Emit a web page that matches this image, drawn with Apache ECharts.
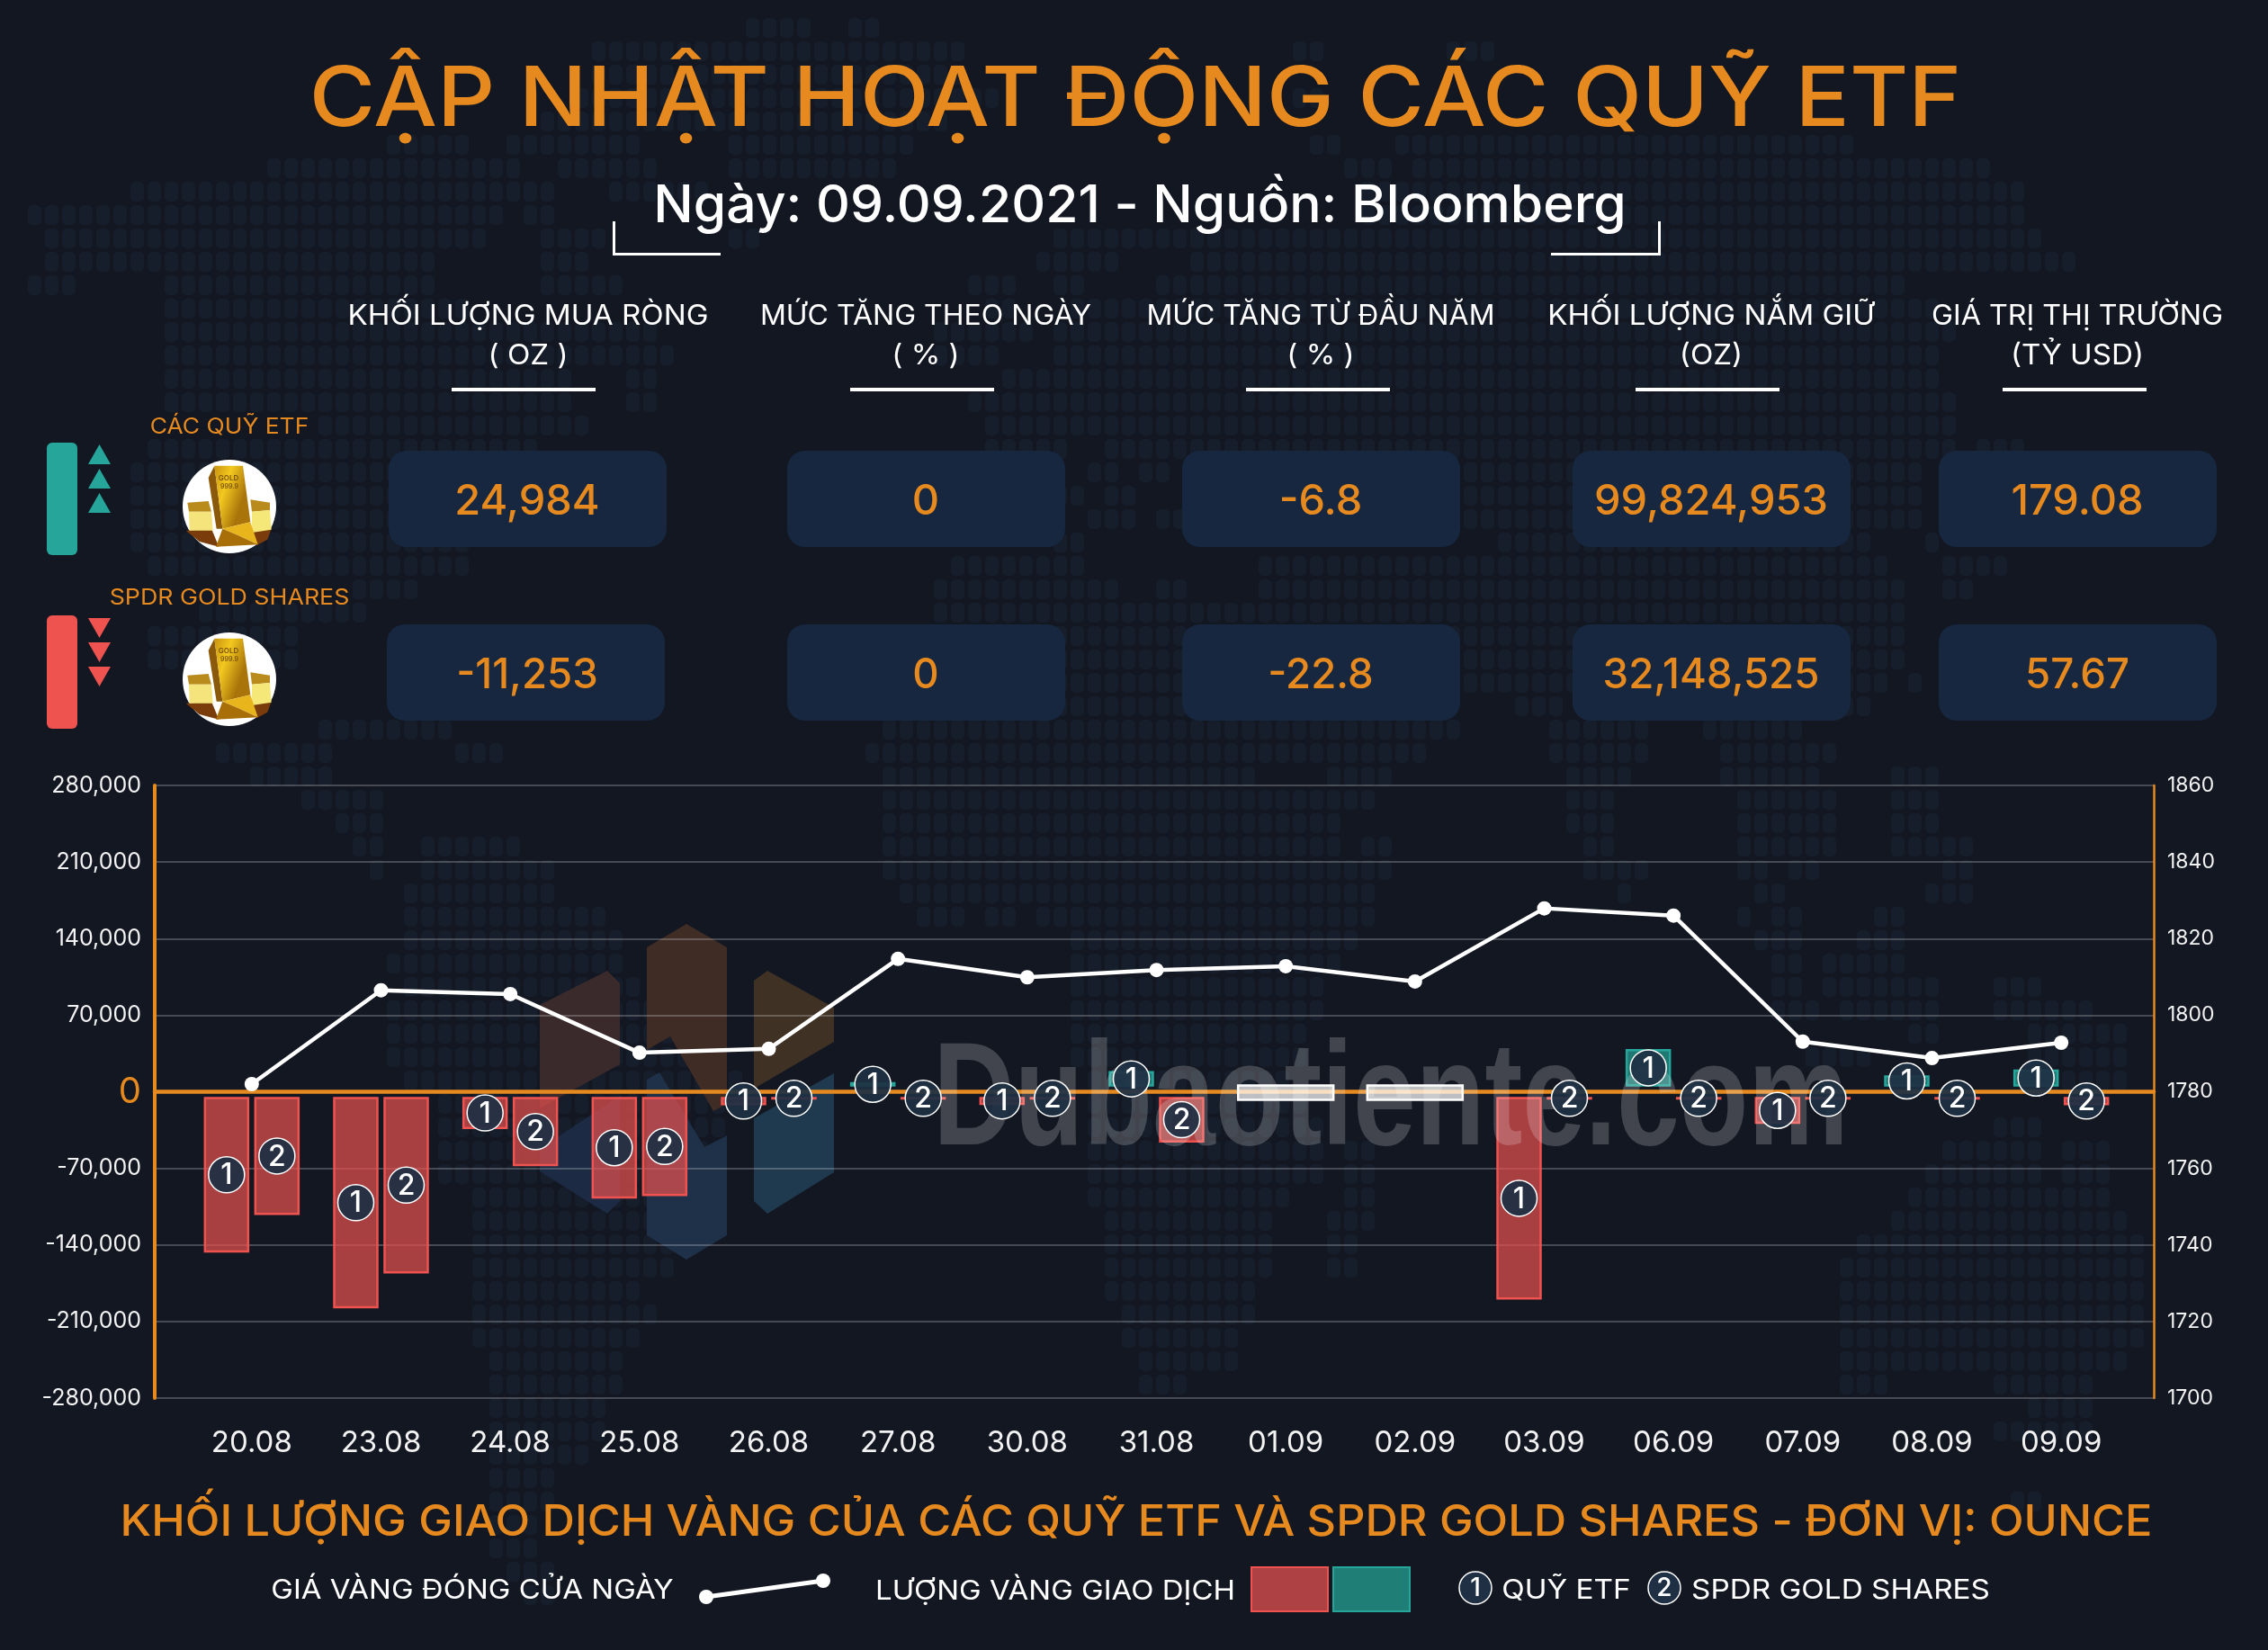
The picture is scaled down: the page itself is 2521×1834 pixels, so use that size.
<!DOCTYPE html>
<html>
<head>
<meta charset="utf-8">
<title>Cập nhật hoạt động các quỹ ETF</title>
<script src="https://cdn.jsdelivr.net/npm/echarts@6/dist/echarts.min.js"></script>
<style>
html, body { margin: 0; padding: 0; background: #131722; }
#chartmain { width: 2521px; height: 1834px; }
</style>
</head>
<body>
<div id="chartmain"></div>
<script>
var categories = ['20.08', '23.08', '24.08', '25.08', '26.08', '27.08', '30.08', '31.08', '01.09', '02.09', '03.09', '06.09', '07.09', '08.09', '09.09'];
var etfValues = [-146000, -197000, -33000, -96600, -11300, 7800, -11000, 17800, 0, 0, -189000, 38000, -28300, 14000, 19400];
var spdrValues = [-111700, -165000, -67100, -94300, -6200, -6200, -6200, -45400, 0, 0, -6200, -6200, -6200, -6200, -11253];
var goldPrice = [1782, 1806.5, 1805.5, 1790.2, 1791.2, 1814.7, 1809.9, 1811.8, 1812.8, 1808.8, 1827.9, 1826, 1793.1, 1788.8, 1792.8];

var headers = [['KHỐI LƯỢNG MUA RÒNG', '( OZ )'], ['MỨC TĂNG THEO NGÀY', '( % )'], ['MỨC TĂNG TỪ ĐẦU NĂM', '( % )'], ['KHỐI LƯỢNG NẮM GIỮ', '(OZ)'], ['GIÁ TRỊ THỊ TRƯỜNG', '(TỶ USD)']];
var etfRow = ['24,984', '0', '-6.8', '99,824,953', '179.08'];
var spdrRow = ['-11,253', '0', '-22.8', '32,148,525', '57.67'];

var ORANGE = '#e68a20';
var FONT = 'Inter, "Noto Sans", sans-serif';

// o nen ban do: [y, x0, x1, x0, x1...]
var mapRows = [
	[33, 833, 894, 942, 967], [58, 664, 1064, 1440, 1465, 1620, 1660], [83, 660, 1064], [108, 640, 1100, 1440, 1470], [133, 600, 1040],
	[163, 433, 518, 567, 712, 809, 1003, 1464, 1480, 1560, 1575, 1597, 2057],
	[188, 300, 409, 433, 579, 627, 640, 664, 724, 809, 991, 1500, 1548, 1573, 2200],
	[213, 150, 615, 676, 785, 1512, 2240], [238, 30, 555, 590, 600, 1512, 2240], [263, 60, 530, 615, 664, 809, 845, 1173, 2260],
	[290, 60, 482, 603, 652, 1160, 1233, 1330, 2300], [315, 42, 76, 194, 482, 603, 688, 1088, 1124, 1185, 1200, 1294, 2106],
	[343, 194, 510, 1100, 1130, 1200, 2150], [370, 191, 724, 1050, 1136, 1185, 2167], [397, 191, 740, 1050, 1110, 1185, 2155],
	[422, 191, 633, 694, 730, 1124, 2155], [448, 191, 633, 694, 730, 1085, 2169], [475, 362, 653, 1108, 2169],
	[502, 173, 597, 1108, 1180, 1235, 2169, 2213, 2235], [528, 153, 510, 1220, 1235, 1280, 1300, 1624, 2130],
	[553, 153, 510, 1180, 1190, 1240, 1255, 1624, 2130], [578, 153, 510, 1220, 1245, 1295, 1310, 1624, 2130],
	[603, 153, 505, 1180, 1190, 1670, 2075, 2140, 2150], [630, 173, 505, 1069, 1191, 1408, 2091, 2169, 2224],
	[655, 398, 464, 1052, 1230, 1295, 1310, 1408, 2108, 2174, 2185], [680, 230, 393, 1036, 2108], [707, 173, 316, 1180, 2108],
	[733, 173, 316, 1180, 2108], [760, 1180, 2091, 2120, 2130], [787, 1180, 1310, 1700, 1720, 2060, 2070],
	[813, 357, 485, 980, 1608, 1724, 1830, 1891, 1996], [838, 249, 370, 510, 542, 976, 1582, 1722, 1830, 1912, 2028],
	[864, 287, 370, 980, 1388, 1480, 1548, 1742, 1810, 1912, 2013, 2115, 2145], [890, 341, 411, 980, 1528, 1742, 1790, 1945, 2033, 2115, 2145],
	[917, 380, 411, 980, 1475, 1742, 1790, 1945, 2033, 2115, 2145], [944, 399, 411, 472, 561, 980, 1475, 1514, 1548, 1761, 1790, 1945, 1960, 1985, 2028, 2115, 2130, 2150, 2178],
	[971, 415, 427, 472, 600, 980, 1548, 1761, 1790, 1805, 1820, 1945, 1960, 2000, 2015, 2160, 2178], [996, 453, 615, 1015, 1528, 1800, 1812, 1965, 1975, 2150, 2178],
	[1022, 453, 673, 1030, 1062, 1105, 1115, 1165, 1528, 1931, 1942, 1970, 1994, 2095, 2105], [1048, 453, 692, 1199, 1509, 1950, 2000, 2077, 2105],
	[1074, 434, 692, 1199, 1475, 1970, 2000, 2042, 2105], [1100, 453, 711, 1199, 1456, 1985, 1996, 2042, 2105, 2130, 2140, 2227, 2256],
	[1125, 434, 784, 1199, 1456, 1985, 2005, 2057, 2105, 2130, 2155, 2227, 2309], [1151, 434, 804, 1199, 1436, 2130, 2155, 2260, 2348],
	[1177, 434, 804, 1199, 1436, 2009, 2072, 2260, 2348], [1203, 453, 823, 1218, 1417, 2280, 2348], [1229, 491, 804, 1218, 1436],
	[1255, 491, 804, 1218, 1456, 2227, 2256], [1281, 491, 804, 1218, 1456, 1510, 1520, 2169, 2256, 2300, 2333],
	[1307, 491, 784, 1218, 1456, 1500, 1528, 2154, 2260, 2300, 2333], [1333, 526, 784, 1218, 1417, 1500, 1528, 2135, 2333],
	[1359, 526, 784, 1238, 1398, 1480, 1528, 2115, 2353], [1385, 526, 765, 1238, 1398, 1480, 1509, 2077, 2368],
	[1411, 526, 746, 1238, 1398, 1480, 1509, 2057, 2368], [1437, 526, 711, 1238, 1378, 2057, 2368], [1463, 526, 730, 1257, 1378, 2057, 2368],
	[1489, 526, 711, 1257, 1359, 2057, 2368], [1515, 545, 692, 1276, 1359, 2057, 2348], [1541, 545, 692, 1276, 1320, 2057, 2086, 2227, 2319],
	[1567, 545, 673, 2260, 2320], [1593, 550, 660, 2230, 2310], [1619, 550, 640], [1645, 550, 600], [1671, 560, 600, 2240, 2270], [1697, 560, 590], [1723, 560, 590], [1749, 570, 610], [1775, 580, 610]
];

function txt(text, x, y, size, color, weight, sx, z) {
	return {
		type : 'text',
		x : x,
		y : y,
		scaleX : sx || 1,
		z : z || 8,
		silent : true,
		style : {
			text : text,
			fontSize : size,
			fontFamily : FONT,
			fontWeight : weight || 400,
			fill : color,
			align : 'center',
			verticalAlign : 'middle'
		}
	};
}
function poly(points, fill, z) {
	return {
		type : 'polygon',
		z : z === undefined ? 1 : z,
		silent : true,
		shape : { points : points },
		style : { fill : fill }
	};
}
function rect(x, y, w, h, fill, r, z) {
	return {
		type : 'rect',
		z : z === undefined ? 1 : z,
		silent : true,
		shape : { x : x, y : y, width : w, height : h, r : r || 0 },
		style : { fill : fill }
	};
}
function numCircle(n, x, y) {
	return [ {
		type : 'circle',
		z : 8,
		silent : true,
		shape : { cx : x, cy : y, r : 18 },
		style : { fill : '#1f3044', stroke : '#fff', lineWidth : 1.5 }
	}, txt(n, x, y + 1, 28, '#fff', 500) ];
}
function goldIcon(cx, cy) {
	function p(list) {
		return list.map(function(a) {
			return [ cx + (a[0] - 195) / 3, cy + (a[1] - 188) / 3 ];
		});
	}
	var face = { type : 'linear', x : 0, y : 0, x2 : 1, y2 : 0.2, colorStops : [ { offset : 0, color : '#c9920e' }, { offset : 0.45, color : '#f3c81f' }, { offset : 1, color : '#a9740a' } ] };
	return [ {
		type : 'circle',
		z : 5,
		silent : true,
		shape : { cx : cx, cy : cy, r : 52 },
		style : { fill : '#fff' }
	},
	poly(p([ [ 50, 268 ], [ 135, 262 ], [ 160, 322 ], [ 95, 305 ] ]), '#7a3c0a', 6),
	poly(p([ [ 270, 270 ], [ 335, 262 ], [ 322, 298 ], [ 285, 318 ] ]), '#7a3c0a', 6),
	poly(p([ [ 55, 175 ], [ 125, 170 ], [ 135, 205 ], [ 60, 205 ] ]), '#b98a1c', 6),
	poly(p([ [ 60, 205 ], [ 135, 205 ], [ 140, 268 ], [ 62, 268 ] ]), '#f5e37c', 6),
	poly(p([ [ 265, 165 ], [ 330, 175 ], [ 330, 200 ], [ 270, 205 ] ]), '#b98a1c', 6),
	poly(p([ [ 270, 205 ], [ 330, 200 ], [ 335, 265 ], [ 270, 275 ] ]), '#f5e878', 6),
	poly(p([ [ 125, 92 ], [ 145, 52 ], [ 172, 262 ], [ 152, 262 ] ]), '#8a5a0a', 6),
	poly(p([ [ 145, 52 ], [ 240, 52 ], [ 265, 240 ], [ 172, 262 ] ]), face, 6),
	poly(p([ [ 172, 262 ], [ 265, 240 ], [ 290, 315 ], [ 215, 280 ] ]), '#e8b51c', 6),
	poly(p([ [ 172, 262 ], [ 215, 280 ], [ 290, 315 ], [ 150, 322 ] ]), '#a86f08', 6),
	txt('GOLD', cx - 1, cy - 31, 8, '#7a5208', 600, 1, 7),
	txt('999.9', cx, cy - 22, 7, '#7a5208', 600, 1, 7) ];
}

var elements = [];

// ban do nen
mapRows.forEach(function(row) {
	var y = Math.round(row[0] / 26) * 26 - 6;
	for (var i = 1; i < row.length; i += 2) {
		for (var c = Math.round(row[i] / 19); c <= Math.round(row[i + 1] / 19); c++) {
			elements.push(rect(c * 19 - 7, y, 15, 22, '#171e2b', 5, -2));
		}
	}
});

// logo mo phia sau bieu do
elements.push(poly([ [ 600, 1117 ], [ 675, 1079 ], [ 689, 1093 ], [ 689, 1183 ], [ 600, 1232 ] ], '#3a2a2c', -1));
elements.push(poly([ [ 719, 1053 ], [ 763, 1027 ], [ 808, 1053 ], [ 808, 1227 ], [ 793, 1235 ], [ 745, 1152 ], [ 719, 1167 ] ], '#3f2c25', -1));
elements.push(poly([ [ 838, 1090 ], [ 853, 1079 ], [ 927, 1120 ], [ 927, 1158 ], [ 838, 1210 ] ], '#3f3225', -1));
elements.push(poly([ [ 600, 1277 ], [ 689, 1218 ], [ 689, 1335 ], [ 675, 1349 ], [ 600, 1302 ] ], '#1d2a44', -1));
elements.push(poly([ [ 719, 1200 ], [ 733, 1192 ], [ 783, 1275 ], [ 808, 1262 ], [ 808, 1373 ], [ 763, 1400 ], [ 719, 1373 ] ], '#1f3049', -1));
elements.push(poly([ [ 838, 1243 ], [ 927, 1193 ], [ 927, 1303 ], [ 853, 1349 ], [ 838, 1335 ] ], '#1f3a4f', -1));

// chu chim Dubaotiente.com (phu len cot)
var mark = txt('Dubaotiente.com', 1546, 1227, 164, 'rgba(255,255,255,0.2)', 700, 0.765, 3);
mark.style.fontFamily = '"Liberation Sans", sans-serif';
elements.push(mark);

// tieu de
elements.push(txt('CẬP NHẬT HOẠT ĐỘNG CÁC QUỸ ETF', 1262, 112, 92, ORANGE, 500, 1.088));
elements.push(txt('Ngày: 09.09.2021 - Nguồn: Bloomberg', 1267, 230, 58, '#fff', 500, 1.014));
elements.push(rect(681, 246, 3, 38, '#fff'));
elements.push(rect(681, 281, 120, 3, '#fff'));
elements.push(rect(1843, 246, 3, 38, '#fff'));
elements.push(rect(1724, 281, 122, 3, '#fff'));

// bang so lieu
var headerX = [ 587, 1029, 1468, 1902, 2309 ];
var headerScale = [ 1.07, 1.033, 1.03, 1.07, 1.04 ];
var lineX = [ 502, 945, 1385, 1818, 2226 ];
var boxX = [ 432, 875, 1314, 1748, 2155 ];
headers.forEach(function(h, i) {
	elements.push(txt(h[0], headerX[i], 352, 31, '#fff', 400, headerScale[i]));
	elements.push(txt(h[1], headerX[i], 396, 31, '#fff', 400, 1.07));
	elements.push(rect(lineX[i], 431, 160, 4, '#fff'));
	elements.push(rect(boxX[i], 501, 309, 107, '#16273f', 20));
	elements.push(rect(boxX[i] - (i == 0 ? 2 : 0), 694, 309, 107, '#16273f', 20));
	elements.push(txt(etfRow[i], boxX[i] + 154, 558, 47, ORANGE, 500));
	elements.push(txt(spdrRow[i], boxX[i] + 154, 751, 47, ORANGE, 500, 0.97));
});

elements.push(txt('CÁC QUỸ ETF', 255, 475, 24, ORANGE, 400, 1.1));
elements.push(txt('SPDR GOLD SHARES', 255, 665, 24, ORANGE, 400, 1.115));
elements.push(rect(52, 492, 34, 125, '#26a69a', 6));
elements.push(rect(52, 684, 34, 126, '#ef5350', 6));
[ 494, 521, 548 ].forEach(function(y) {
	elements.push(poly([ [ 98, y + 22 ], [ 110.5, y ], [ 123, y + 22 ] ], '#26a69a'));
});
[ 687, 714, 741 ].forEach(function(y) {
	elements.push(poly([ [ 98, y ], [ 123, y ], [ 110.5, y + 22 ] ], '#ef5350'));
});
elements = elements.concat(goldIcon(255, 563), goldIcon(255, 755));

// chu thich va tieu de duoi
elements.push(txt('KHỐI LƯỢNG GIAO DỊCH VÀNG CỦA CÁC QUỸ ETF VÀ SPDR GOLD SHARES - ĐƠN VỊ: OUNCE', 1263, 1693, 48, ORANGE, 500, 1.05));
elements.push(txt('GIÁ VÀNG ĐÓNG CỬA NGÀY', 525, 1768, 30, '#fff', 400, 1.1));
elements.push({
	type : 'line',
	z : 8,
	silent : true,
	shape : { x1 : 785, y1 : 1775, x2 : 915, y2 : 1757 },
	style : { stroke : '#fff', lineWidth : 5 }
});
[ [ 785, 1775 ], [ 915, 1757 ] ].forEach(function(p) {
	elements.push({
		type : 'circle',
		z : 8,
		silent : true,
		shape : { cx : p[0], cy : p[1], r : 8 },
		style : { fill : '#fff' }
	});
});
elements.push(txt('LƯỢNG VÀNG GIAO DỊCH', 1173, 1769, 30, '#fff', 400, 1.1));
elements.push({ type : 'rect', z : 8, silent : true, shape : { x : 1391, y : 1742, width : 85, height : 49 }, style : { fill : '#ad4144', stroke : '#ef5350', lineWidth : 2 } });
elements.push({ type : 'rect', z : 8, silent : true, shape : { x : 1482, y : 1742, width : 85, height : 49 }, style : { fill : '#1f7e76', stroke : '#26a69a', lineWidth : 2 } });
elements = elements.concat(numCircle('1', 1640, 1765), numCircle('2', 1850, 1765));
elements.push(txt('QUỸ ETF', 1741, 1768, 30, '#fff', 400, 1.11));
elements.push(txt('SPDR GOLD SHARES', 2046, 1768, 30, '#fff', 400, 1.11));

// cot: tach khoi truc 0 mot khoang 7px
var BAR_W = 48, BAR_GAP = 8, ZERO_GAP = 7;
function barBox(api, side) {
	var i = api.value(0), v = api.value(1);
	var zero = api.coord([ i, 0 ]);
	var end = api.coord([ i, v ]);
	var x = side == 0 ? zero[0] - BAR_GAP / 2 - BAR_W : zero[0] + BAR_GAP / 2;
	var y0 = v < 0 ? zero[1] + ZERO_GAP : zero[1] - ZERO_GAP;
	return { x : x, y : Math.min(y0, end[1]), width : BAR_W, height : Math.abs(end[1] - y0), neg : v < 0 };
}
function barSeries(values, side) {
	return {
		type : 'custom',
		xAxisIndex : 1,
		yAxisIndex : 2,
		z : 2,
		encode : { x : 0, y : 1 },
		data : values.map(function(v, i) { return [ i, v ]; }),
		renderItem : function(params, api) {
			if (api.value(1) == 0) return null;
			var b = barBox(api, side);
			return {
				type : 'rect',
				shape : { x : b.x, y : b.y, width : b.width, height : b.height },
				style : {
					fill : b.neg ? 'rgba(239,83,80,0.68)' : 'rgba(38,166,154,0.68)',
					stroke : b.neg ? '#ef5350' : '#26a69a',
					lineWidth : 2.5
				}
			};
		}
	};
}
function badgeSeries(values, side) {
	return {
		type : 'custom',
		xAxisIndex : 1,
		yAxisIndex : 2,
		z : 6,
		encode : { x : 0, y : 1 },
		data : values.map(function(v, i) { return [ i, v ]; }),
		renderItem : function(params, api) {
			if (api.value(1) == 0) return null;
			var b = barBox(api, side);
			var cx = b.x + b.width / 2, cy = b.y + b.height / 2;
			return {
				type : 'group',
				children : [ {
					type : 'circle',
					shape : { cx : cx, cy : cy, r : 20 },
					style : { fill : 'rgba(30,48,68,0.93)', stroke : '#fff', lineWidth : 1.5 }
				}, {
					type : 'text',
					x : cx,
					y : cy + 1,
					style : { text : String(side + 1), fontSize : 32, fontWeight : 500, fontFamily : FONT, fill : '#fff', align : 'center', verticalAlign : 'middle' }
				} ]
			};
		}
	};
}
// ngay khong co giao dich: o trang de len truc 0
var noTradeSeries = {
	type : 'custom',
	xAxisIndex : 1,
	yAxisIndex : 2,
	z : 4,
	encode : { x : 0, y : 1 },
	data : etfValues.map(function(v, i) { return [ i, v + spdrValues[i] ]; }),
	renderItem : function(params, api) {
		if (api.value(1) != 0) return null;
		var c = api.coord([ api.value(0), 0 ]);
		return {
			type : 'rect',
			shape : { x : c[0] - 53, y : c[1] - 7, width : 106, height : 16 },
			style : { fill : 'rgba(255,255,255,0.72)', stroke : '#fff', lineWidth : 2.5 }
		};
	}
};

var option = {
	backgroundColor : '#131722',
	animation : false,
	textStyle : { fontFamily : FONT },
	graphic : { elements : elements },
	grid : [
		{ left : 172, top : 873, width : 2222, height : 681 },
		{ left : 208, top : 873, width : 2155, height : 681 }
	],
	xAxis : [ {
		// truc ngang 0, dai het khung
		gridIndex : 0,
		type : 'value',
		min : 0,
		max : 1,
		axisLabel : { show : false },
		axisTick : { show : false },
		splitLine : { show : false },
		axisLine : { show : true, onZero : true, lineStyle : { color : ORANGE, width : 4.5 } }
	}, {
		gridIndex : 1,
		type : 'category',
		data : categories,
		axisLine : { show : false },
		axisTick : { show : false },
		axisLabel : { color : '#f2f2f2', fontSize : 33, margin : 34, interval : 0, fontFamily : FONT }
	} ],
	yAxis : [ {
		gridIndex : 0,
		type : 'value',
		position : 'left',
		min : -280000,
		max : 280000,
		interval : 70000,
		axisLine : { show : true, onZero : false, lineStyle : { color : ORANGE, width : 4 } },
		axisTick : { show : false },
		axisLabel : {
			margin : 15,
			color : '#f2f2f2',
			fontSize : 25,
			formatter : function(v) {
				return v == 0 ? '{zero|0}' : echarts.format.addCommas(v);
			},
			rich : { zero : { color : ORANGE, fontSize : 40, fontFamily : FONT } }
		},
		splitLine : { show : true, lineStyle : { color : 'rgba(255,255,255,0.3)', width : 1.5 } }
	}, {
		gridIndex : 0,
		type : 'value',
		position : 'right',
		min : 1700,
		max : 1860,
		interval : 20,
		axisLine : { show : true, onZero : false, lineStyle : { color : ORANGE, width : 2.5 } },
		axisTick : { show : false },
		axisLabel : { margin : 15, color : '#f2f2f2', fontSize : 23, formatter : function(v) { return String(v); } },
		splitLine : { show : false }
	}, {
		gridIndex : 1,
		type : 'value',
		show : false,
		min : -280000,
		max : 280000,
		interval : 70000,
		splitLine : { show : false }
	}, {
		gridIndex : 1,
		type : 'value',
		show : false,
		min : 1700,
		max : 1860,
		interval : 20,
		splitLine : { show : false }
	} ],
	series : [ barSeries(etfValues, 0), barSeries(spdrValues, 1), noTradeSeries, badgeSeries(etfValues, 0), badgeSeries(spdrValues, 1), {
		name : 'Giá vàng đóng cửa ngày',
		type : 'line',
		xAxisIndex : 1,
		yAxisIndex : 3,
		z : 5,
		data : goldPrice,
		symbol : 'circle',
		symbolSize : 16,
		lineStyle : { color : '#fff', width : 4.5 },
		itemStyle : { color : '#fff' }
	} ]
};

// 初始化echarts实例
var myChart = echarts.init(document.getElementById('chartmain'), null, { renderer : 'canvas' });
myChart.setOption(option);
</script>
</body>
</html>
